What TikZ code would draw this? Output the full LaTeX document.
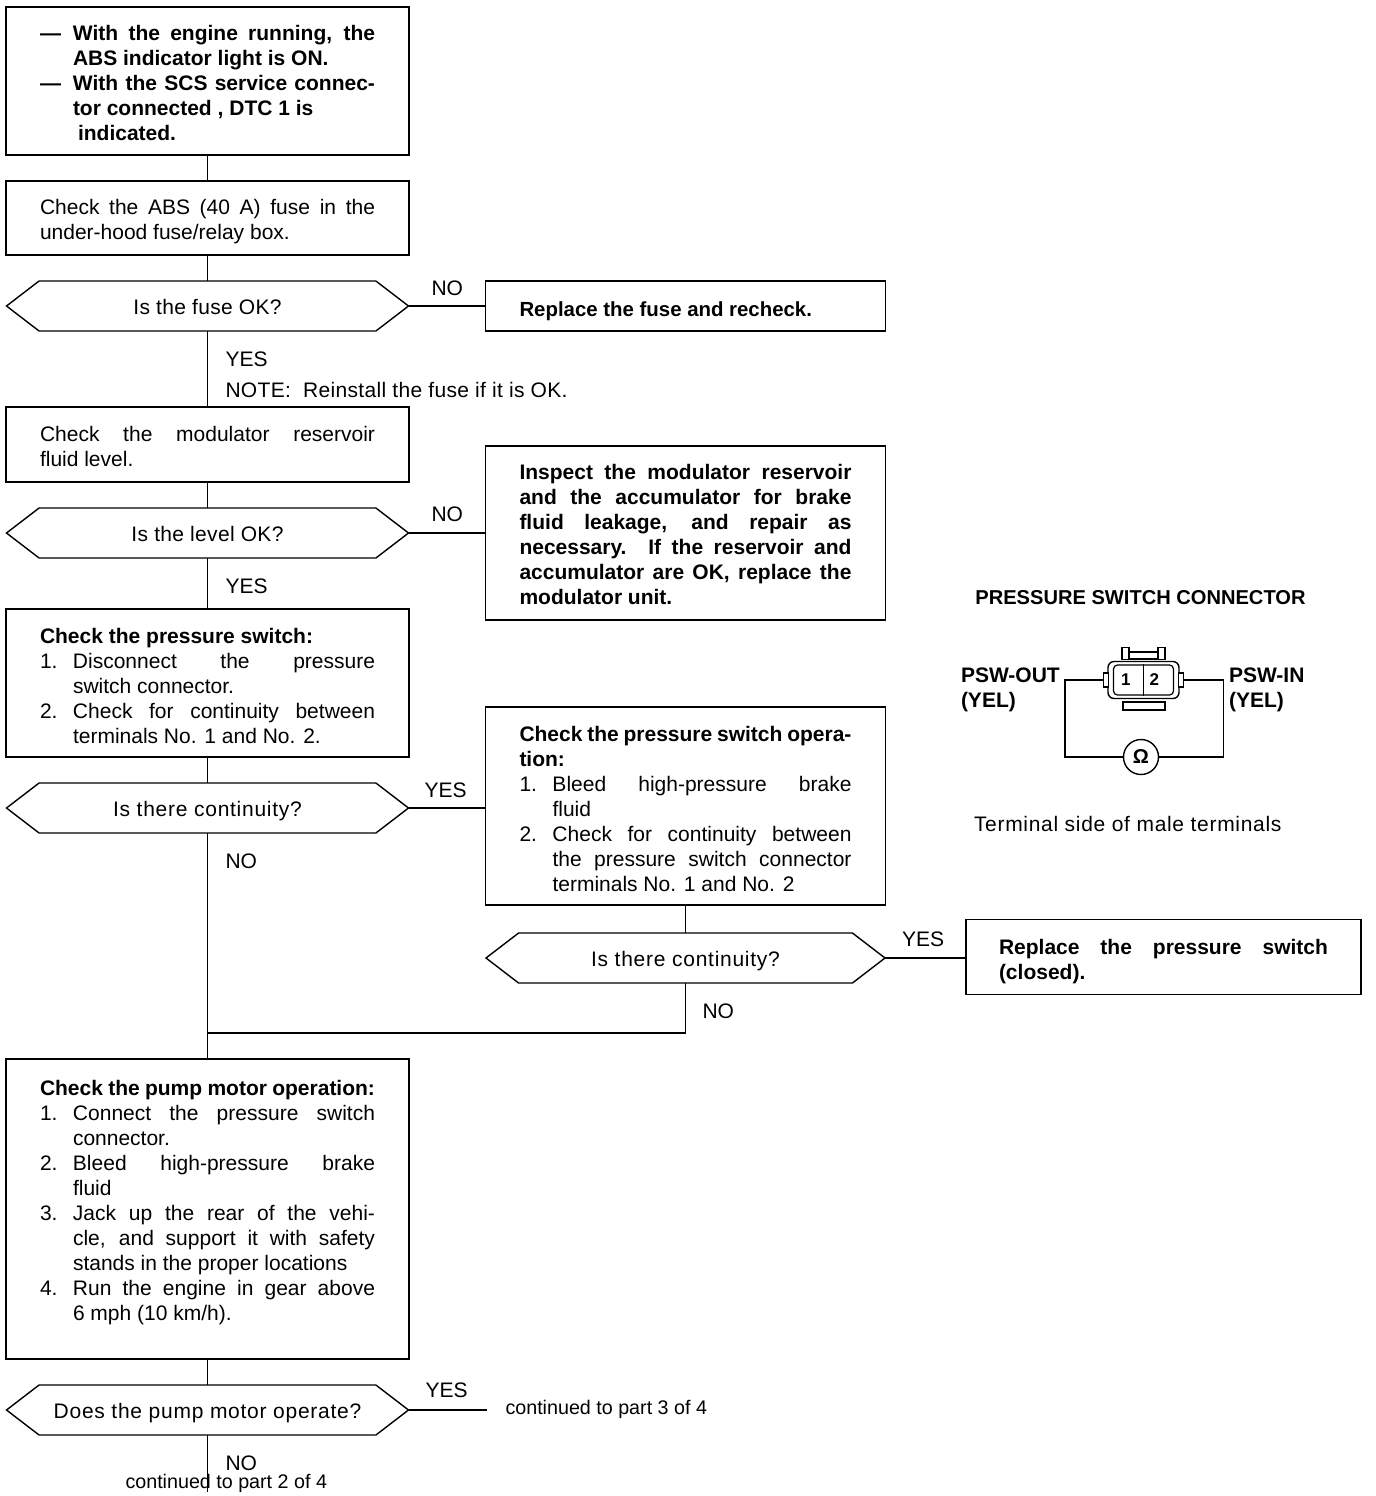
\documentclass[tikz,border=0pt]{standalone}
\usepackage{fontspec}
\setmainfont{Liberation Sans}
\usepackage{xcolor}
\usetikzlibrary{shapes.symbols, shapes.geometric, positioning}
\tikzstyle{stepbox} = [rectangle, draw=black, line width=0.7pt, text width=167.5pt, inner xsep=17pt, inner ysep=2pt, outer sep=0pt, align=justify, font=\fontsize{10.5}{12.5}\selectfont]
\tikzstyle{query} = [signal, signal to=west and east, signal pointer angle=75, draw=black, line width=0.7pt, minimum width=201pt, minimum height=25pt, inner sep=0pt, outer sep=0pt, text height=8.5pt, text depth=0pt, font=\fontsize{10.5}{12.5}\selectfont]
\tikzstyle{link} = [line width=0.6pt]
\tikzstyle{lbl} = [inner sep=0pt, outer sep=0pt, font=\fontsize{10.5}{12.5}\selectfont]
\tikzstyle{part} = [lbl, font=\fontsize{9.85}{12}\selectfont]
\newcommand{\stepline}[1]{\par\noindent\hangindent=16.5pt\hangafter=1\makebox[16.5pt][l]{#1}\ignorespaces}
\newcommand{\spaced}[1]{\addfontfeature{LetterSpace=#1}}
\newcommand{\toppad}[1]{\rule{0pt}{\dimexpr7.6pt+#1\relax}}
\newcommand{\botpad}[1]{\par\kern#1\relax}

\begin{document}
\begin{tikzpicture}
        \useasboundingbox (0,0) rectangle (688pt,-748pt);

        % Left column
        \node[stepbox, anchor=north west, minimum height=74pt, font=\fontsize{10.5}{12.5}\bfseries\selectfont] (start) at (3pt,-3.5pt) {%
            \stepline{---}With the engine running, the\linebreak ABS indicator light is ON.%
            \stepline{---}With the SCS service connec-\linebreak tor connected , DTC 1 is\newline \hspace*{2.5pt}indicated.\botpad{2.5pt}};

        \node[stepbox, below=13pt of start, minimum height=37pt] (fuse) {\toppad{4pt}Check the ABS (40 A) fuse in the\linebreak under-hood fuse/relay box.\par};
        \draw[link] (start.south) -- (fuse.north);

        \node[query, below=13pt of fuse] (fuseok) {\spaced{1.5}Is the fuse OK?};
        \draw[link] (fuse.south) -- (fuseok.north);

        \node[stepbox, below=38pt of fuseok, minimum height=37.5pt] (level) {\toppad{2pt}Check the modulator reservoir\linebreak fluid level.\par};
        \draw[link] (fuseok.south) -- (level.north);

        \node[query, below=13pt of level] (levelok) {\spaced{1.5}Is the level OK?};
        \draw[link] (level.south) -- (levelok.north);

        \node[stepbox, below=25.5pt of levelok, minimum height=74pt] (switch) {\toppad{2.5pt}%
            \textbf{Check the pressure switch:}%
            \stepline{1.}Disconnect the pressure\linebreak switch connector.%
            \stepline{2.}Check for continuity between\linebreak terminals No. 1 and No. 2.\par};
        \draw[link] (levelok.south) -- (switch.north);

        \node[query, below=13pt of switch] (contone) {\spaced{3.5}Is there continuity?};
        \draw[link] (switch.south) -- (contone.north);

        \node[stepbox, below=113pt of contone, minimum height=150pt] (pump) {%
            \textbf{Check the pump motor operation:}%
            \stepline{1.}Connect the pressure switch\linebreak connector.%
            \stepline{2.}Bleed high-pressure brake\linebreak fluid%
            \stepline{3.}Jack up the rear of the vehi-\linebreak cle, and support it with safety\linebreak stands in the proper locations%
            \stepline{4.}Run the engine in gear above\linebreak 6 mph (10 km/h).%
            \botpad{6pt}};
        \draw[link] (contone.south) -- (pump.north);

        \node[query, below=13pt of pump] (pumpok) {\spaced{3.5}Does the pump motor operate?};
        \draw[link] (pump.south) -- (pumpok.north);

        % Right column
        \node[stepbox, right=38.5pt of fuseok, text width=166pt, minimum height=25pt, font=\fontsize{10.2}{12.5}\bfseries\selectfont] (newfuse) {\toppad{5pt}Replace the fuse and recheck.\par};
        \draw[link] (fuseok.east) -- (newfuse.west);

        \node[stepbox, right=38.5pt of levelok, text width=166pt, minimum height=87pt, font=\fontsize{10.5}{12.5}\bfseries\selectfont] (leak) {\toppad{1.5pt}Inspect the modulator reservoir\linebreak and the accumulator for brake\linebreak fluid leakage, and repair as\linebreak necessary. If the reservoir and\linebreak accumulator are OK, replace the\linebreak modulator unit.\par};
        \draw[link] (levelok.east) -- (leak.west);

        \node[stepbox, right=38.5pt of contone, yshift=1pt, text width=166pt, minimum height=99pt] (operation) {\toppad{2.5pt}%
            \textbf{Check the pressure switch opera-\linebreak tion:}%
            \stepline{1.}Bleed high-pressure brake\linebreak fluid%
            \stepline{2.}Check for continuity between\linebreak the pressure switch connector\linebreak terminals No. 1 and No. 2\par};
        \draw[link] (contone.east) -- (contone.east -| operation.west);

        \node[query, below=14pt of operation, minimum width=199.5pt] (conttwo) {\spaced{3.5}Is there continuity?};
        \draw[link] (operation.south) -- (conttwo.north);

        \node[stepbox, right=40.5pt of conttwo, yshift=0.5pt, text width=164.5pt, inner xsep=16.5pt, minimum height=37.5pt, font=\fontsize{10.5}{12.5}\bfseries\selectfont] (replace) {\toppad{5pt}Replace the pressure switch\linebreak (closed).\par};
        \draw[link] (conttwo.east) -- (conttwo.east -| replace.west);

        % Back to the left column
        \coordinate[above=13pt of pump] (merge);
        \draw[link] (conttwo.south) |- (merge);

        % Continuation texts
        \node[part, right=39pt of pumpok, inner xsep=9.5pt, yshift=0.5pt] (partthree) {continued to part 3 of 4};
        \draw[link] (pumpok.east) -- (pumpok.east -| partthree.west);

        \coordinate[below=28.5pt of pumpok] (stub);
        \draw[link] (pumpok.south) -- (stub);
        \node[part, below right=19.5pt and -41pt of pumpok.south] (parttwo) {continued to part 2 of 4};

        % Branch labels
        \node[lbl, right=11.5pt of fuseok.east, yshift=9pt] (fuseno) {NO};
        \node[lbl, below right=10.5pt and 9pt of fuseok.south] (fuseyes) {YES};
        \node[lbl, below right=25.5pt and 9pt of fuseok.south] (note) {\spaced{1.5}NOTE:\ \ Reinstall the fuse if it is OK.};
        \node[lbl, right=11.5pt of levelok.east, yshift=9.5pt] (levelno) {NO};
        \node[lbl, below right=10.5pt and 9pt of levelok.south] (levelyes) {YES};
        \node[lbl, right=8pt of contone.east, yshift=9pt] (contyes) {YES};
        \node[lbl, below right=10.5pt and 9pt of contone.south] (contno) {NO};
        \node[lbl, right=8.5pt of conttwo.east, yshift=9.5pt] (twoyes) {YES};
        \node[lbl, below right=10.5pt and 8.5pt of conttwo.south] (twono) {NO};
        \node[lbl, right=8.5pt of pumpok.east, yshift=10pt] (pumpyes) {YES};
        \node[lbl, below right=10.5pt and 9pt of pumpok.south] (pumpno) {NO};

        % Pressure switch connector
        \node[lbl, font=\fontsize{10.05}{12.5}\bfseries\selectfont] (title) at (570.25pt,-299pt) {PRESSURE SWITCH CONNECTOR};
        \node[draw, rounded corners=3pt, line width=0.7pt, minimum width=35.5pt, minimum height=18.5pt, inner sep=0pt] (plug) at (571.75pt,-340pt) {};
        \node[draw, rounded corners=2pt, line width=0.6pt, minimum width=30pt, minimum height=15pt, inner sep=0pt] (inner) at (plug.center) {};
        \node[draw, fill=white, line width=0.7pt, left=-1pt of plug.west, minimum width=2.5pt, minimum height=7pt, inner sep=0pt] (lugleft) {};
        \node[draw, fill=white, line width=0.7pt, right=-1pt of plug.east, minimum width=2.5pt, minimum height=7pt, inner sep=0pt] (lugright) {};
        \node[draw, fill=white, line width=0.7pt, above=0.5pt of plug.north, minimum width=14pt, minimum height=3.5pt, inner sep=0pt] (tabtop) {};
        \node[draw, fill=white, line width=0.7pt, left=-0.5pt of tabtop.west, yshift=1pt, minimum width=3.5pt, minimum height=6pt, inner sep=0pt] (postleft) {};
        \node[draw, fill=white, line width=0.7pt, right=-0.5pt of tabtop.east, yshift=1pt, minimum width=3.5pt, minimum height=6pt, inner sep=0pt] (postright) {};
        \node[draw, fill=white, line width=1pt, below=1pt of plug.south, minimum width=21pt, minimum height=4pt, inner sep=0pt] (tabbottom) {};
        \draw[line width=0.6pt] (inner.north) -- (inner.south);
        \node[lbl, left=6.5pt of inner.center, font=\fontsize{8.5}{10}\bfseries\selectfont] (pinone) {1};
        \node[lbl, right=3pt of inner.center, font=\fontsize{8.5}{10}\bfseries\selectfont] (pintwo) {2};

        \node[draw, circle, line width=0.7pt, minimum size=17.5pt, inner sep=0pt, font=\fontsize{10}{12}\bfseries\selectfont] (ohm) at (570.5pt,-378.5pt) {Ω};
        \coordinate[left=19pt of lugleft.west] (wireout);
        \coordinate[right=19.5pt of lugright.east] (wirein);
        \draw[line width=0.9pt] (lugleft.west) -- (wireout) |- (ohm.west);
        \draw[line width=0.6pt] (lugright.east) -- (wirein) |- (ohm.east);

        \node[lbl, font=\fontsize{10.5}{12.5}\bfseries\selectfont, align=left, anchor=north west] (pswout) at (480.5pt,-334pt) {PSW-OUT\\(YEL)};
        \node[lbl, font=\fontsize{10.5}{12.5}\bfseries\selectfont, align=left, anchor=north west] (pswin) at (614.5pt,-334pt) {PSW-IN\\(YEL)};
        \node[lbl, anchor=west] (terminal) at (487pt,-412pt) {\spaced{3.3}Terminal side of male terminals};
\end{tikzpicture}
\end{document}
